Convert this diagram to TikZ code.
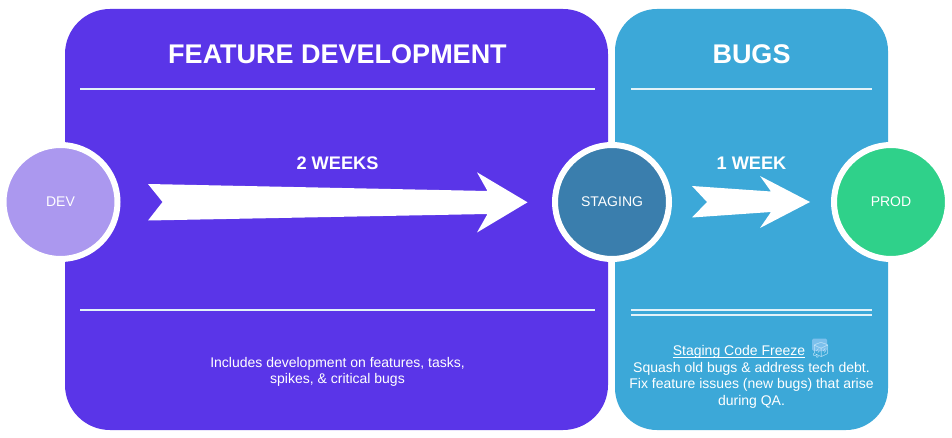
\documentclass[tikz,border=0pt]{standalone}
\usepackage{fontspec}
\setmainfont{Liberation Sans}
\newfontfamily\emojifont{Noto Emoji}
\newcommand\myul[1]{\setbox0=\hbox{#1}\rlap{\rule[-2pt]{\wd0}{0.9pt}}\box0 }
\definecolor{purp}{HTML}{5A35E8}
\definecolor{bluep}{HTML}{3CA8D8}
\definecolor{stag}{HTML}{3A7EAD}
\definecolor{devc}{HTML}{AB98EF}
\definecolor{prodc}{HTML}{2FD18A}
\definecolor{ice}{HTML}{CBE8FA}
\definecolor{icefill}{HTML}{7CC0EC}
\tikzset{
  x=1pt,y=-1pt,
  stagecircle/.style={circle,draw=white,line width=6pt,minimum size=114pt,inner sep=0pt,text=white,font=\fontsize{14}{16}\selectfont},
  rule/.style={draw=white!85!bluep,line width=2pt},
  title/.style={text=white,font=\fontsize{27}{30}\bfseries\selectfont,inner sep=0pt},
  dur/.style={text=white,font=\fontsize{18.2}{20}\bfseries\selectfont,inner sep=0pt},
  body/.style={text=white,align=center,inner sep=0pt,font=\fontsize{14}{16.7}\selectfont},
}
\begin{document}
\begin{tikzpicture}
\useasboundingbox (0,0) rectangle (952,438);
\fill[white] (0,0) rectangle (952,438);
\fill[purp,rounded corners=45pt] (65,9) rectangle (608,430);
\fill[bluep,rounded corners=42pt] (615,9) rectangle (888,430);
\node[title] (t1) at (337.5,54) {FEATURE DEVELOPMENT};
\node[title] (t2) at (751.5,54) {BUGS};
\draw[rule] (80,89) -- (595,89);
\draw[rule] (80,309.5) -- (595,309.5);
\draw[rule] (631,89) -- (872,89);
\draw[rule] (631,309.5) -- (872,309.5);
\draw[rule] (631,315) -- (872,315);
\node[dur] (d1) at (337.5,163) {2 WEEKS};
\node[dur] (d2) at (751.5,163) {1 WEEK};
\fill[white] (148,184) -- (162.5,202) -- (148,220.5) -- (487.5,214) -- (477,232.5) -- (527.5,202.3) -- (477,172.3) -- (487.5,191) -- cycle;
\fill[white] (692,186) -- (707,202) -- (692,217.5) -- (771,212) -- (760,228) -- (810,202) -- (760,176) -- (771,191.5) -- cycle;
\node[stagecircle,fill=devc] (dev) at (60.5,202) {DEV};
\node[stagecircle,fill=stag] (staging) at (612,202) {STAGING};
\node[stagecircle,fill=prodc] (prod) at (891,202) {PROD};
\node[body] (n1) at (337.5,372) {Includes development on features, tasks,\\spikes, \& critical bugs};
\fill[icefill,rounded corners=1.5pt] (812,338.5) rectangle (827,351);
\node[body] (n2) at (751.5,377) {\myul{Staging Code Freeze}\hspace{6pt}\smash{\emojifont\color{ice}\fontsize{15}{16}\selectfont 🧊}\\Squash old bugs \& address tech debt.\\Fix feature issues (new bugs) that arise\\during QA.};
\end{tikzpicture}
\end{document}
